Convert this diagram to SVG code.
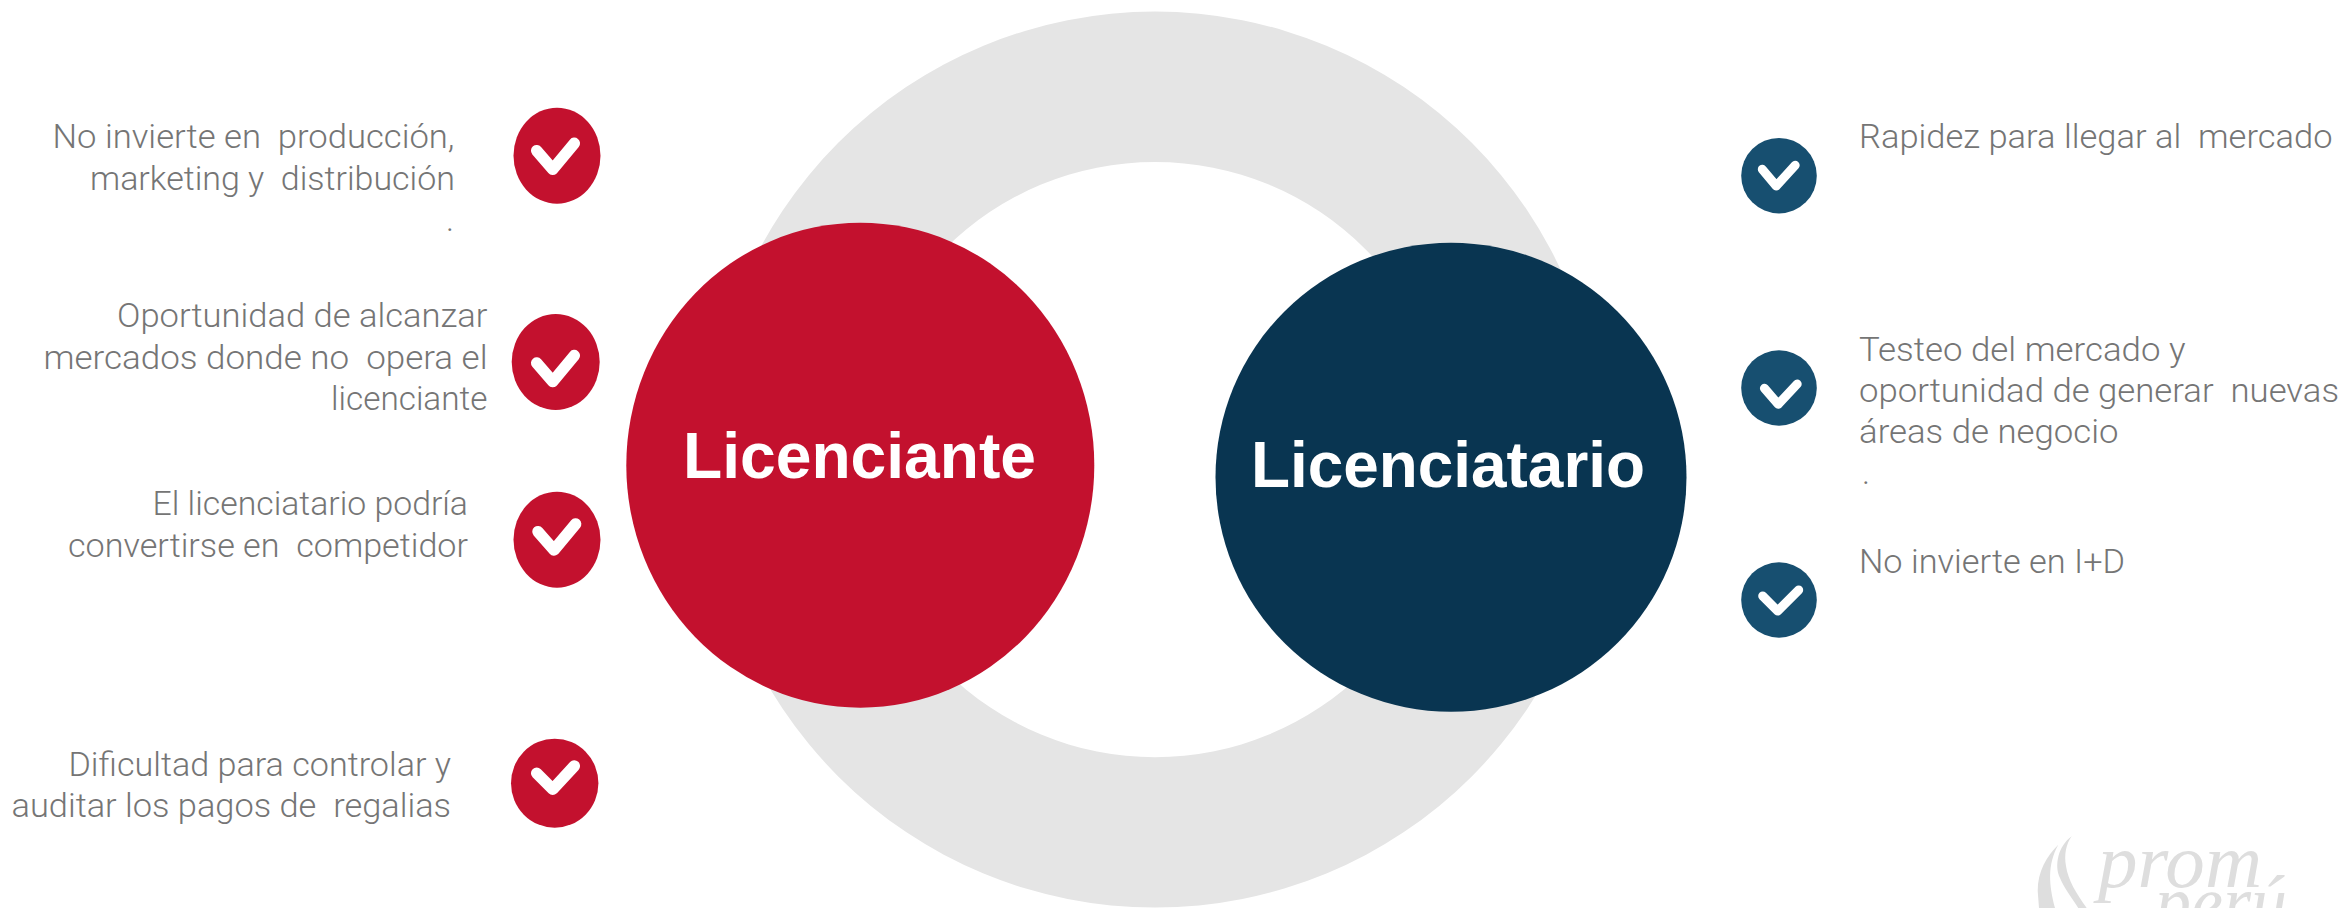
<svg xmlns="http://www.w3.org/2000/svg" width="2343" height="908" viewBox="0 0 2343 908">
<style>
.t{font-family:Roboto,"Liberation Sans",Arial,sans-serif;font-weight:300;font-size:33.5px;fill:#757575;white-space:pre}
.b{font-family:"Liberation Sans",Arial,sans-serif;font-size:64px;font-weight:700;fill:#fff}
.l{font-family:"Liberation Serif","Times New Roman",serif;font-style:italic;font-size:76px;fill:#dedede}
.c{fill:none;stroke:#fff;stroke-linecap:round;stroke-linejoin:round}
.r{fill:#c3112e}.n{fill:#174f70}
</style>
<rect width="2343" height="908" fill="#fff"/>
<path id="ring" fill="#e5e5e5" fill-rule="evenodd" d="M707,459.600a448,448 0 1,0 896,0a448,448 0 1,0 -896,0ZM857.500,459.600a297.500,297.500 0 1,0 595,0a297.500,297.500 0 1,0 -595,0Z"/>
<g id="licenciante">
<ellipse cx="860.300" cy="465.200" rx="234" ry="242.500" class="r"/>
<text class="b" x="683" y="478" textLength="353" lengthAdjust="spacingAndGlyphs">Licenciante</text>
</g>
<g id="licenciatario">
<ellipse cx="1451" cy="477.200" rx="235.500" ry="234.500" fill="#093551"/>
<text class="b" x="1251" y="487" textLength="394" lengthAdjust="spacingAndGlyphs">Licenciatario</text>
</g>
<g id="item-l1">
<ellipse cx="557" cy="155.700" rx="43.500" ry="48" class="r"/>
<path class="c" stroke-width="11.500" d="M536.700,150.700L552.700,169.300L574.300,143.300"/>
<text class="t" x="52.500" y="148.300" textLength="402" lengthAdjust="spacingAndGlyphs">No invierte en  producción,</text>
<text class="t" x="90" y="190" textLength="365" lengthAdjust="spacingAndGlyphs">marketing y  distribución</text>
<text class="t" x="446" y="230.700">.</text>
</g>
<g id="item-l2">
<ellipse cx="555.700" cy="362" rx="44" ry="48" class="r"/>
<path class="c" stroke-width="11.500" d="M536.700,363L552.700,381.600L574.300,355.600"/>
<text class="t" x="117" y="326.700" textLength="370.500" lengthAdjust="spacingAndGlyphs">Oportunidad de alcanzar</text>
<text class="t" x="43.500" y="368.700" textLength="444" lengthAdjust="spacingAndGlyphs">mercados donde no  opera el</text>
<text class="t" x="331" y="410" textLength="156.500" lengthAdjust="spacingAndGlyphs">licenciante</text>
</g>
<g id="item-l3">
<ellipse cx="557" cy="539.700" rx="43.500" ry="48" class="r"/>
<path class="c" stroke-width="11.500" d="M538,531.700L554,550L575.600,524"/>
<text class="t" x="152.500" y="515" textLength="315.500" lengthAdjust="spacingAndGlyphs">El licenciatario podría</text>
<text class="t" x="68" y="556.700" textLength="400" lengthAdjust="spacingAndGlyphs">convertirse en  competidor</text>
</g>
<g id="item-l4">
<ellipse cx="554.700" cy="783.200" rx="43.700" ry="44.500" class="r"/>
<path class="c" stroke-width="11.500" d="M536.700,773.300L552.700,789.300L574.300,766"/>
<text class="t" x="68.500" y="775.700" textLength="382.500" lengthAdjust="spacingAndGlyphs">Dificultad para controlar y</text>
<text class="t" x="11.500" y="816.700" textLength="439.500" lengthAdjust="spacingAndGlyphs">auditar los pagos de  regalias</text>
</g>
<g id="item-r1">
<ellipse cx="1779" cy="175.700" rx="37.800" ry="37.700" class="n"/>
<path class="c" stroke-width="9" d="M1762.300,169.300L1776.300,186L1795.200,165.300"/>
<text class="t" x="1859" y="148.300" textLength="473.500" lengthAdjust="spacingAndGlyphs">Rapidez para llegar al  mercado</text>
</g>
<g id="item-r2">
<ellipse cx="1779" cy="388" rx="37.800" ry="37.700" class="n"/>
<path class="c" stroke-width="9" d="M1764.400,388.300L1778.300,404.300L1797.200,384"/>
<text class="t" x="1859" y="360.700" textLength="326.500" lengthAdjust="spacingAndGlyphs">Testeo del mercado y</text>
<text class="t" x="1859" y="401.700" textLength="480" lengthAdjust="spacingAndGlyphs">oportunidad de generar  nuevas</text>
<text class="t" x="1859" y="443.300" textLength="259.500" lengthAdjust="spacingAndGlyphs">áreas de negocio</text>
<text class="t" x="1862" y="484">.</text>
</g>
<g id="item-r3">
<ellipse cx="1779" cy="600" rx="37.800" ry="37.700" class="n"/>
<path class="c" stroke-width="9" d="M1762.700,596L1777.700,611L1798.700,590"/>
<text class="t" x="1859" y="573.300" textLength="266" lengthAdjust="spacingAndGlyphs">No invierte en I+D</text>
</g>
<g id="logo">
<path fill="#dedede" d="M2058.300,844.700C2046.700,856.300 2037.700,871 2037.700,891L2039,908L2055,908C2049,885 2047,865 2058.300,844.700Z"/>
<path fill="#dedede" d="M2071.700,836.300C2058,846 2054,866 2060,878C2064,888 2072,898 2078.300,908L2086.700,908C2076,893 2068,880 2066,866C2064,855 2066,844 2071.700,836.300Z"/>
<text class="l" x="2098" y="887" textLength="164" lengthAdjust="spacingAndGlyphs">prom</text>
<text class="l" x="2155" y="928" textLength="132" lengthAdjust="spacingAndGlyphs">perú</text>
</g>
</svg>
